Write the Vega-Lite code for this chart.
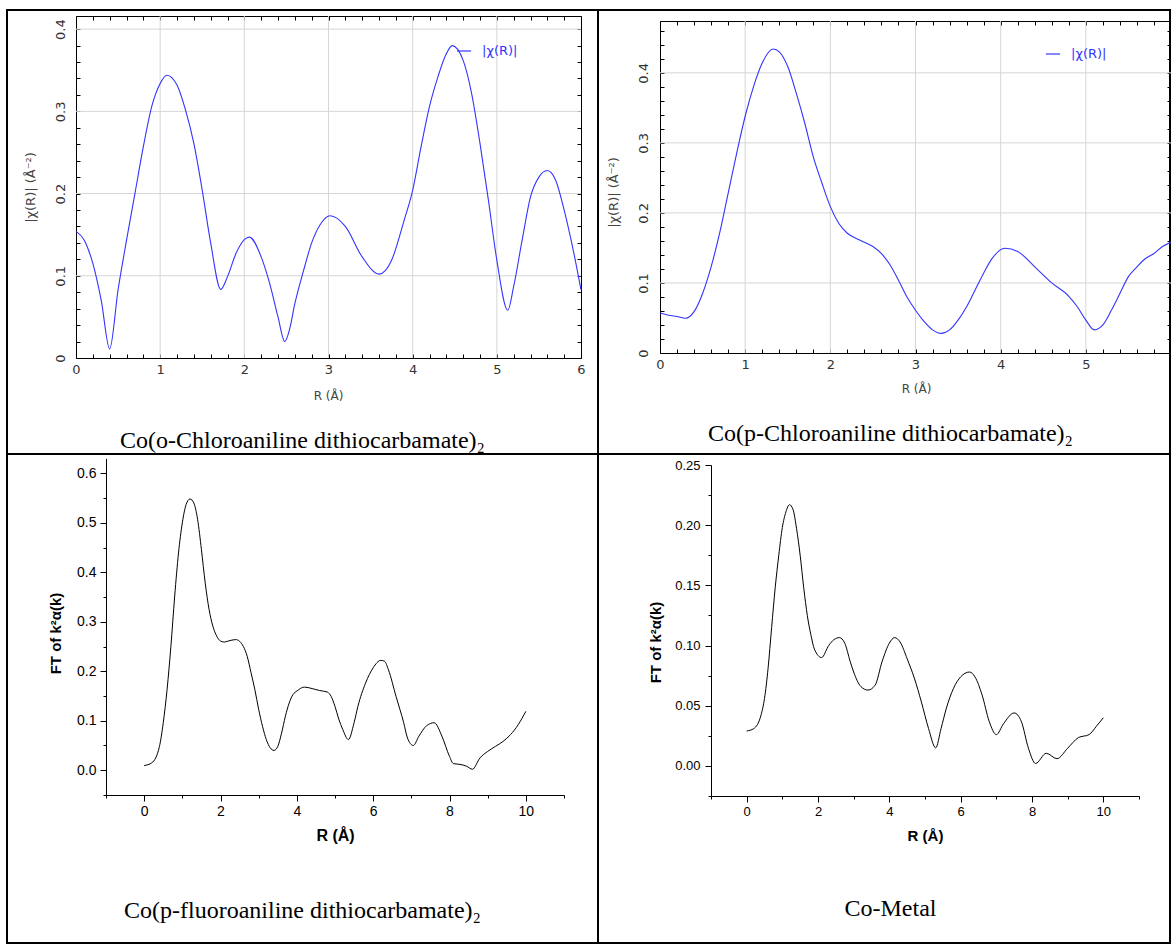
{
  "$schema": "https://vega.github.io/schema/vega-lite/v6.json",
  "padding": {"left": 6, "top": 9, "right": 0, "bottom": 0},
  "background": "white",
  "bounds": "flush",
  "spacing": 0,
  "columns": 2,
  "resolve": {"scale": {"color": "independent"}},
  "config": {
    "view": {"stroke": "#000", "strokeWidth": 2},
    "axis": {"labelOverlap": false, "labelFlush": false, "domainColor": "#000", "tickColor": "#000", "grid": false, "domainWidth": 1, "tickWidth": 1}
  },
  "datasets": {
    "p1": [
      {"R": 0, "v": 0.154}, {"R": 0.1, "v": 0.143}, {"R": 0.2, "v": 0.115}, {"R": 0.3, "v": 0.07}, {"R": 0.4, "v": 0.011},
      {"R": 0.5, "v": 0.083}, {"R": 0.6, "v": 0.143}, {"R": 0.7, "v": 0.2}, {"R": 0.8, "v": 0.257}, {"R": 0.9, "v": 0.306},
      {"R": 1.0, "v": 0.334}, {"R": 1.08, "v": 0.344}, {"R": 1.2, "v": 0.332}, {"R": 1.3, "v": 0.302}, {"R": 1.4, "v": 0.261},
      {"R": 1.5, "v": 0.204}, {"R": 1.6, "v": 0.14}, {"R": 1.72, "v": 0.0835}, {"R": 1.8, "v": 0.099}, {"R": 1.9, "v": 0.127},
      {"R": 2.0, "v": 0.144}, {"R": 2.06, "v": 0.147}, {"R": 2.2, "v": 0.123}, {"R": 2.3, "v": 0.091}, {"R": 2.4, "v": 0.05},
      {"R": 2.48, "v": 0.02}, {"R": 2.54, "v": 0.036}, {"R": 2.6, "v": 0.066}, {"R": 2.7, "v": 0.105}, {"R": 2.8, "v": 0.14},
      {"R": 2.9, "v": 0.162}, {"R": 3.02, "v": 0.173}, {"R": 3.2, "v": 0.16}, {"R": 3.4, "v": 0.123}, {"R": 3.6, "v": 0.102},
      {"R": 3.75, "v": 0.119}, {"R": 3.9, "v": 0.168}, {"R": 4.0, "v": 0.204}, {"R": 4.1, "v": 0.257}, {"R": 4.2, "v": 0.306},
      {"R": 4.3, "v": 0.342}, {"R": 4.4, "v": 0.37}, {"R": 4.47, "v": 0.38}, {"R": 4.6, "v": 0.362}, {"R": 4.7, "v": 0.322},
      {"R": 4.8, "v": 0.261}, {"R": 4.9, "v": 0.192}, {"R": 5.0, "v": 0.119}, {"R": 5.13, "v": 0.058}, {"R": 5.2, "v": 0.087},
      {"R": 5.3, "v": 0.143}, {"R": 5.4, "v": 0.196}, {"R": 5.5, "v": 0.22}, {"R": 5.6, "v": 0.228}, {"R": 5.7, "v": 0.216},
      {"R": 5.8, "v": 0.18}, {"R": 5.9, "v": 0.135}, {"R": 6.0, "v": 0.083}
    ],
    "p2": [
      {"R": 0, "v": 0.057}, {"R": 0.1, "v": 0.054}, {"R": 0.2, "v": 0.052}, {"R": 0.3, "v": 0.0496}, {"R": 0.4, "v": 0.059},
      {"R": 0.5, "v": 0.085}, {"R": 0.6, "v": 0.123}, {"R": 0.7, "v": 0.171}, {"R": 0.8, "v": 0.228}, {"R": 0.9, "v": 0.285},
      {"R": 1.0, "v": 0.338}, {"R": 1.1, "v": 0.381}, {"R": 1.2, "v": 0.414}, {"R": 1.33, "v": 0.434}, {"R": 1.4, "v": 0.43},
      {"R": 1.5, "v": 0.409}, {"R": 1.6, "v": 0.371}, {"R": 1.7, "v": 0.328}, {"R": 1.8, "v": 0.28}, {"R": 1.9, "v": 0.243},
      {"R": 2.0, "v": 0.209}, {"R": 2.1, "v": 0.185}, {"R": 2.2, "v": 0.171}, {"R": 2.35, "v": 0.161}, {"R": 2.5, "v": 0.152},
      {"R": 2.6, "v": 0.142}, {"R": 2.7, "v": 0.126}, {"R": 2.8, "v": 0.104}, {"R": 2.9, "v": 0.08}, {"R": 3.0, "v": 0.061},
      {"R": 3.1, "v": 0.045}, {"R": 3.2, "v": 0.033}, {"R": 3.3, "v": 0.028}, {"R": 3.4, "v": 0.033}, {"R": 3.5, "v": 0.047},
      {"R": 3.6, "v": 0.066}, {"R": 3.7, "v": 0.09}, {"R": 3.8, "v": 0.114}, {"R": 3.9, "v": 0.135}, {"R": 4.05, "v": 0.1496},
      {"R": 4.2, "v": 0.145}, {"R": 4.4, "v": 0.123}, {"R": 4.6, "v": 0.1}, {"R": 4.8, "v": 0.081}, {"R": 4.9, "v": 0.066},
      {"R": 5.0, "v": 0.047}, {"R": 5.1, "v": 0.033}, {"R": 5.2, "v": 0.04}, {"R": 5.3, "v": 0.061}, {"R": 5.4, "v": 0.085},
      {"R": 5.5, "v": 0.109}, {"R": 5.6, "v": 0.123}, {"R": 5.7, "v": 0.135}, {"R": 5.8, "v": 0.142}, {"R": 5.9, "v": 0.152},
      {"R": 6.0, "v": 0.158}
    ],
    "p3": [
      {"R": 0, "v": 0.0095}, {"R": 0.2, "v": 0.015}, {"R": 0.4, "v": 0.048}, {"R": 0.5, "v": 0.096}, {"R": 0.6, "v": 0.163},
      {"R": 0.7, "v": 0.25}, {"R": 0.8, "v": 0.352}, {"R": 0.9, "v": 0.439}, {"R": 1.0, "v": 0.5}, {"R": 1.1, "v": 0.537},
      {"R": 1.2, "v": 0.548}, {"R": 1.3, "v": 0.54}, {"R": 1.4, "v": 0.507}, {"R": 1.5, "v": 0.446}, {"R": 1.6, "v": 0.378},
      {"R": 1.7, "v": 0.325}, {"R": 1.8, "v": 0.291}, {"R": 1.9, "v": 0.271}, {"R": 2.0, "v": 0.261}, {"R": 2.1, "v": 0.259},
      {"R": 2.2, "v": 0.261}, {"R": 2.4, "v": 0.264}, {"R": 2.6, "v": 0.25}, {"R": 2.7, "v": 0.23}, {"R": 2.8, "v": 0.197},
      {"R": 2.9, "v": 0.163}, {"R": 3.0, "v": 0.123}, {"R": 3.1, "v": 0.089}, {"R": 3.2, "v": 0.062}, {"R": 3.4, "v": 0.04},
      {"R": 3.5, "v": 0.048}, {"R": 3.6, "v": 0.075}, {"R": 3.7, "v": 0.109}, {"R": 3.8, "v": 0.136}, {"R": 3.9, "v": 0.153},
      {"R": 4.0, "v": 0.16}, {"R": 4.2, "v": 0.168}, {"R": 4.4, "v": 0.165}, {"R": 4.6, "v": 0.161}, {"R": 4.8, "v": 0.158},
      {"R": 4.9, "v": 0.149}, {"R": 5.0, "v": 0.129}, {"R": 5.1, "v": 0.103}, {"R": 5.2, "v": 0.083}, {"R": 5.35, "v": 0.062},
      {"R": 5.5, "v": 0.096}, {"R": 5.6, "v": 0.129}, {"R": 5.8, "v": 0.176}, {"R": 6.0, "v": 0.207}, {"R": 6.2, "v": 0.222},
      {"R": 6.3, "v": 0.22}, {"R": 6.4, "v": 0.203}, {"R": 6.6, "v": 0.149}, {"R": 6.8, "v": 0.096}, {"R": 6.9, "v": 0.065},
      {"R": 7.05, "v": 0.05}, {"R": 7.2, "v": 0.069}, {"R": 7.4, "v": 0.09}, {"R": 7.6, "v": 0.096}, {"R": 7.8, "v": 0.069},
      {"R": 8.0, "v": 0.028}, {"R": 8.1, "v": 0.0135}, {"R": 8.3, "v": 0.0115}, {"R": 8.45, "v": 0.008}, {"R": 8.6, "v": 0.002},
      {"R": 8.8, "v": 0.025}, {"R": 9.0, "v": 0.038}, {"R": 9.2, "v": 0.048}, {"R": 9.4, "v": 0.058}, {"R": 9.6, "v": 0.072},
      {"R": 9.8, "v": 0.092}, {"R": 10.0, "v": 0.119}
    ],
    "p4": [
      {"R": 0, "v": 0.029}, {"R": 0.2, "v": 0.031}, {"R": 0.4, "v": 0.042}, {"R": 0.5, "v": 0.056}, {"R": 0.6, "v": 0.081},
      {"R": 0.7, "v": 0.115}, {"R": 0.8, "v": 0.148}, {"R": 0.9, "v": 0.175}, {"R": 1.0, "v": 0.198}, {"R": 1.1, "v": 0.211},
      {"R": 1.2, "v": 0.217}, {"R": 1.3, "v": 0.213}, {"R": 1.4, "v": 0.197}, {"R": 1.5, "v": 0.175}, {"R": 1.6, "v": 0.148},
      {"R": 1.7, "v": 0.125}, {"R": 1.8, "v": 0.109}, {"R": 1.9, "v": 0.097}, {"R": 2.1, "v": 0.09}, {"R": 2.3, "v": 0.1},
      {"R": 2.45, "v": 0.105}, {"R": 2.6, "v": 0.1066}, {"R": 2.75, "v": 0.102}, {"R": 2.9, "v": 0.087}, {"R": 3.0, "v": 0.078},
      {"R": 3.2, "v": 0.066}, {"R": 3.4, "v": 0.063}, {"R": 3.6, "v": 0.067}, {"R": 3.8, "v": 0.087}, {"R": 4.0, "v": 0.102},
      {"R": 4.15, "v": 0.1066}, {"R": 4.3, "v": 0.103}, {"R": 4.5, "v": 0.089}, {"R": 4.7, "v": 0.073}, {"R": 4.9, "v": 0.053},
      {"R": 5.1, "v": 0.031}, {"R": 5.3, "v": 0.015}, {"R": 5.45, "v": 0.031}, {"R": 5.6, "v": 0.048}, {"R": 5.8, "v": 0.0645},
      {"R": 6.0, "v": 0.074}, {"R": 6.25, "v": 0.078}, {"R": 6.4, "v": 0.074}, {"R": 6.6, "v": 0.059}, {"R": 6.8, "v": 0.037},
      {"R": 7.0, "v": 0.026}, {"R": 7.2, "v": 0.035}, {"R": 7.5, "v": 0.044}, {"R": 7.7, "v": 0.037}, {"R": 7.9, "v": 0.0147},
      {"R": 8.1, "v": 0.002}, {"R": 8.4, "v": 0.0105}, {"R": 8.7, "v": 0.006}, {"R": 9.0, "v": 0.0147}, {"R": 9.3, "v": 0.0235},
      {"R": 9.6, "v": 0.026}, {"R": 9.8, "v": 0.0327}, {"R": 10.0, "v": 0.04}
    ],
    "gx": [{"g": 1}, {"g": 2}, {"g": 3}, {"g": 4}, {"g": 5}],
    "gy": [{"g": 0.1}, {"g": 0.2}, {"g": 0.3}, {"g": 0.4}]
  },
  "concat": [
    {
      "width": 591, "height": 444,
      "resolve": {"axis": {"x": "independent", "y": "independent"}},
      "layer": [
        {
          "data": {"name": "gx"},
          "mark": {"type": "rule", "color": "#d6d6d6", "strokeWidth": 1},
          "encoding": {
            "x": {"field": "g", "type": "quantitative", "axis": null, "scale": {"domain": [0, 6], "range": [69, 574], "nice": false, "zero": false}},
            "y": {"datum": 0, "type": "quantitative", "axis": null, "scale": {"domain": [0, 0.416], "range": [348, 6], "nice": false, "zero": false}},
            "y2": {"datum": 0.416}
          }
        },
        {
          "data": {"name": "gy"},
          "mark": {"type": "rule", "color": "#d6d6d6", "strokeWidth": 1},
          "encoding": {
            "y": {"field": "g", "type": "quantitative", "axis": null, "scale": {"domain": [0, 0.416], "range": [348, 6], "nice": false, "zero": false}},
            "x": {"datum": 0, "type": "quantitative", "axis": null, "scale": {"domain": [0, 6], "range": [69, 574], "nice": false, "zero": false}},
            "x2": {"datum": 6}
          }
        },
        {
          "data": {"name": "p1"},
          "mark": {"type": "line", "opacity": 0},
          "encoding": {
            "x": {"field": "R", "type": "quantitative", "scale": {"domain": [0, 6], "range": [69, 574], "nice": false, "zero": false},
              "axis": {"orient": "top", "offset": -6, "values": [0,0.2,0.4,0.6,0.8,1,1.2,1.4,1.6,1.8,2,2.2,2.4,2.6,2.8,3,3.2,3.4,3.6,3.8,4,4.2,4.4,4.6,4.8,5,5.2,5.4,5.6,5.8,6],
                "labels": false, "tickSize": -4, "domain": true,
                "title": "Co(o-Chloroaniline dithiocarbamate)₂", "titleFont": "Liberation Serif", "titleFontSize": 24, "titleFontWeight": "normal", "titleColor": "#000",
                "titleX": 295, "titleY": 424, "titleAlign": "center", "titleBaseline": "middle", "titleAngle": 0}},
            "y": {"field": "v", "type": "quantitative", "scale": {"domain": [0, 0.416], "range": [348, 6], "nice": false, "zero": false},
              "axis": {"orient": "right", "offset": -17, "values": [0,0.02,0.04,0.06,0.08,0.1,0.12,0.14,0.16,0.18,0.2,0.22,0.24,0.26,0.28,0.3,0.32,0.34,0.36,0.38,0.4],
                "labels": false, "tickSize": -4, "domain": true, "title": null}}
          }
        },
        {
          "data": {"name": "p1"},
          "mark": {"type": "line", "interpolate": "monotone", "strokeWidth": 1.1},
          "encoding": {
            "x": {"field": "R", "type": "quantitative", "scale": {"domain": [0, 6], "range": [69, 574], "nice": false, "zero": false},
              "axis": {"orient": "bottom", "offset": -96, "values": [0,0.2,0.4,0.6,0.8,1,1.2,1.4,1.6,1.8,2,2.2,2.4,2.6,2.8,3,3.2,3.4,3.6,3.8,4,4.2,4.4,4.6,4.8,5,5.2,5.4,5.6,5.8,6],
                "format": "~g", "labelExpr": "datum.value % 1 == 0 ? datum.label : ''",
                "tickSize": -4, "domain": true, "labelFont": "DejaVu Sans", "labelFontSize": 13, "labelColor": "#333", "labelPadding": 9,
                "title": "R (Å)", "titleFont": "DejaVu Sans", "titleFontSize": 12, "titleFontWeight": "normal", "titleColor": "#444",
                "titleX": 321, "titleY": 37, "titleAlign": "center", "titleBaseline": "middle", "titleAngle": 0}},
            "y": {"field": "v", "type": "quantitative", "scale": {"domain": [0, 0.416], "range": [348, 6], "nice": false, "zero": false},
              "axis": {"orient": "left", "offset": -69, "values": [0,0.02,0.04,0.06,0.08,0.1,0.12,0.14,0.16,0.18,0.2,0.22,0.24,0.26,0.28,0.3,0.32,0.34,0.36,0.38,0.4],
                "format": "~g", "labelExpr": "round(datum.value * 100) % 10 == 0 ? datum.label : ''",
                "tickSize": -4, "domain": true, "labelFont": "DejaVu Sans", "labelFontSize": 13, "labelColor": "#333", "labelPadding": 13,
                "labelAngle": -90, "labelAlign": "center", "labelBaseline": "bottom",
                "title": "|χ(R)| (Å⁻²)", "titleFont": "DejaVu Sans", "titleFontSize": 13, "titleFontWeight": "normal", "titleColor": "#444",
                "titleX": -46, "titleY": 177, "titleAlign": "center", "titleBaseline": "middle", "titleAngle": 270}},
            "color": {"datum": "|χ(R)|", "type": "nominal", "scale": {"range": ["#3434ff"]},
              "legend": {"orient": "none", "legendX": 449, "legendY": 33, "title": null, "symbolType": "stroke", "symbolSize": 200, "symbolStrokeWidth": 1.2,
                "labelFont": "DejaVu Sans", "labelFontSize": 13, "labelColor": "#3434ff", "labelOffset": 10, "padding": 0}}
          }
        }
      ]
    },
    {
      "width": 572, "height": 444,
      "resolve": {"axis": {"x": "independent", "y": "independent"}},
      "layer": [
        {
          "data": {"name": "gx"},
          "mark": {"type": "rule", "color": "#d6d6d6", "strokeWidth": 1},
          "encoding": {
            "x": {"field": "g", "type": "quantitative", "axis": null, "scale": {"domain": [0, 6], "range": [62, 573], "nice": false, "zero": false}},
            "y": {"datum": 0, "type": "quantitative", "axis": null, "scale": {"domain": [0, 0.474], "range": [343, 11], "nice": false, "zero": false}},
            "y2": {"datum": 0.474}
          }
        },
        {
          "data": {"name": "gy"},
          "mark": {"type": "rule", "color": "#d6d6d6", "strokeWidth": 1},
          "encoding": {
            "y": {"field": "g", "type": "quantitative", "axis": null, "scale": {"domain": [0, 0.474], "range": [343, 11], "nice": false, "zero": false}},
            "x": {"datum": 0, "type": "quantitative", "axis": null, "scale": {"domain": [0, 6], "range": [62, 573], "nice": false, "zero": false}},
            "x2": {"datum": 6}
          }
        },
        {
          "data": {"name": "p2"},
          "mark": {"type": "line", "opacity": 0},
          "encoding": {
            "x": {"field": "R", "type": "quantitative", "scale": {"domain": [0, 6], "range": [62, 573], "nice": false, "zero": false},
              "axis": {"orient": "top", "offset": -11, "values": [0,0.2,0.4,0.6,0.8,1,1.2,1.4,1.6,1.8,2,2.2,2.4,2.6,2.8,3,3.2,3.4,3.6,3.8,4,4.2,4.4,4.6,4.8,5,5.2,5.4,5.6,5.8,6],
                "labels": false, "tickSize": -4, "domain": true,
                "title": "Co(p-Chloroaniline dithiocarbamate)₂", "titleFont": "Liberation Serif", "titleFontSize": 24, "titleFontWeight": "normal", "titleColor": "#000",
                "titleX": 292, "titleY": 412, "titleAlign": "center", "titleBaseline": "middle", "titleAngle": 0}},
            "y": {"field": "v", "type": "quantitative", "scale": {"domain": [0, 0.474], "range": [343, 11], "nice": false, "zero": false},
              "axis": {"orient": "right", "offset": 1, "values": [0,0.02,0.04,0.06,0.08,0.1,0.12,0.14,0.16,0.18,0.2,0.22,0.24,0.26,0.28,0.3,0.32,0.34,0.36,0.38,0.4,0.42,0.44,0.46],
                "labels": false, "tickSize": -4, "domain": true, "title": null}}
          }
        },
        {
          "data": {"name": "p2"},
          "mark": {"type": "line", "interpolate": "monotone", "strokeWidth": 1.1},
          "encoding": {
            "x": {"field": "R", "type": "quantitative", "scale": {"domain": [0, 6], "range": [62, 573], "nice": false, "zero": false},
              "axis": {"orient": "bottom", "offset": -101, "values": [0,0.2,0.4,0.6,0.8,1,1.2,1.4,1.6,1.8,2,2.2,2.4,2.6,2.8,3,3.2,3.4,3.6,3.8,4,4.2,4.4,4.6,4.8,5,5.2,5.4,5.6,5.8,6],
                "format": "~g", "labelExpr": "datum.value % 1 == 0 && datum.value < 6 ? datum.label : ''",
                "tickSize": -4, "domain": true, "labelFont": "DejaVu Sans", "labelFontSize": 13, "labelColor": "#333", "labelPadding": 9,
                "title": "R (Å)", "titleFont": "DejaVu Sans", "titleFontSize": 12, "titleFontWeight": "normal", "titleColor": "#444",
                "titleX": 318, "titleY": 35, "titleAlign": "center", "titleBaseline": "middle", "titleAngle": 0}},
            "y": {"field": "v", "type": "quantitative", "scale": {"domain": [0, 0.474], "range": [343, 11], "nice": false, "zero": false},
              "axis": {"orient": "left", "offset": -62, "values": [0,0.02,0.04,0.06,0.08,0.1,0.12,0.14,0.16,0.18,0.2,0.22,0.24,0.26,0.28,0.3,0.32,0.34,0.36,0.38,0.4,0.42,0.44,0.46],
                "format": "~g", "labelExpr": "round(datum.value * 100) % 10 == 0 ? datum.label : ''",
                "tickSize": -4, "domain": true, "labelFont": "DejaVu Sans", "labelFontSize": 13, "labelColor": "#333", "labelPadding": 14,
                "labelAngle": -90, "labelAlign": "center", "labelBaseline": "bottom",
                "title": "|χ(R)| (Å⁻²)", "titleFont": "DejaVu Sans", "titleFontSize": 13, "titleFontWeight": "normal", "titleColor": "#444",
                "titleX": -47, "titleY": 182, "titleAlign": "center", "titleBaseline": "middle", "titleAngle": 270}},
            "color": {"datum": "|χ(R)|", "type": "nominal", "scale": {"range": ["#3434ff"]},
              "legend": {"orient": "none", "legendX": 447, "legendY": 36, "title": null, "symbolType": "stroke", "symbolSize": 200, "symbolStrokeWidth": 1.2,
                "labelFont": "DejaVu Sans", "labelFontSize": 13, "labelColor": "#3434ff", "labelOffset": 10, "padding": 0}}
          }
        }
      ]
    },
    {
      "width": 591, "height": 489,
      "resolve": {"axis": {"x": "independent", "y": "independent"}},
      "layer": [
        {
          "data": {"name": "p3"},
          "mark": {"type": "line", "opacity": 0},
          "encoding": {
            "x": {"field": "R", "type": "quantitative", "scale": {"domain": [-1, 11], "range": [99, 557], "nice": false, "zero": false},
              "axis": {"orient": "bottom", "offset": -148, "values": [-1, 1, 3, 5, 7, 9, 11], "labels": false, "tickSize": 3, "domain": false,
                "title": "Co(p-fluoroaniline dithiocarbamate)₂", "titleFont": "Liberation Serif", "titleFontSize": 24, "titleFontWeight": "normal", "titleColor": "#000",
                "titleX": 295, "titleY": 115, "titleAlign": "center", "titleBaseline": "middle", "titleAngle": 0}},
            "y": {"field": "v", "type": "quantitative", "scale": {"domain": [-0.05, 0.63], "range": [341, 4.4], "nice": false, "zero": false},
              "axis": {"orient": "left", "offset": -99, "values": [-0.05, 0.05, 0.15, 0.25, 0.35, 0.45, 0.55], "labels": false, "tickSize": 3, "domain": false, "title": null}}
          }
        },
        {
          "data": {"name": "p3"},
          "mark": {"type": "line", "interpolate": "monotone", "strokeWidth": 1, "color": "#000"},
          "encoding": {
            "x": {"field": "R", "type": "quantitative", "scale": {"domain": [-1, 11], "range": [99, 557], "nice": false, "zero": false},
              "axis": {"orient": "bottom", "offset": -148, "values": [0, 2, 4, 6, 8, 10], "format": "d", "tickSize": 6, "domain": true,
                "labelFont": "Liberation Sans", "labelFontSize": 14, "labelColor": "#000", "labelPadding": 3,
                "title": "R (Å)", "titleFont": "Liberation Sans", "titleFontSize": 16, "titleFontWeight": "bold", "titleColor": "#000",
                "titleX": 328, "titleY": 40, "titleAlign": "center", "titleBaseline": "middle", "titleAngle": 0}},
            "y": {"field": "v", "type": "quantitative", "scale": {"domain": [-0.05, 0.63], "range": [341, 4.4], "nice": false, "zero": false},
              "axis": {"orient": "left", "offset": -99, "values": [0, 0.1, 0.2, 0.3, 0.4, 0.5, 0.6], "format": ".1f", "tickSize": 6, "domain": true,
                "labelFont": "Liberation Sans", "labelFontSize": 14, "labelColor": "#000", "labelPadding": 4,
                "title": "FT of k²α(k)", "titleFont": "Liberation Sans", "titleFontSize": 15, "titleFontWeight": "bold", "titleColor": "#000",
                "titleX": -51, "titleY": 179, "titleAlign": "center", "titleBaseline": "middle", "titleAngle": 270}}
          }
        }
      ]
    },
    {
      "width": 572, "height": 489,
      "resolve": {"axis": {"x": "independent", "y": "independent"}},
      "layer": [
        {
          "data": {"name": "p4"},
          "mark": {"type": "line", "opacity": 0},
          "encoding": {
            "x": {"field": "R", "type": "quantitative", "scale": {"domain": [-1, 11], "range": [113, 541], "nice": false, "zero": false},
              "axis": {"orient": "bottom", "offset": -147, "values": [-1, 1, 3, 5, 7, 9, 11], "labels": false, "tickSize": 3, "domain": false,
                "title": "Co-Metal", "titleFont": "Liberation Serif", "titleFontSize": 24, "titleFontWeight": "normal", "titleColor": "#000",
                "titleX": 292, "titleY": 112, "titleAlign": "center", "titleBaseline": "middle", "titleAngle": 0}},
            "y": {"field": "v", "type": "quantitative", "scale": {"domain": [-0.025, 0.25], "range": [342, 11], "nice": false, "zero": false},
              "axis": {"orient": "left", "offset": -113, "values": [-0.025, 0.025, 0.075, 0.125, 0.175, 0.225], "labels": false, "tickSize": 3, "domain": false, "title": null}}
          }
        },
        {
          "data": {"name": "p4"},
          "mark": {"type": "line", "interpolate": "monotone", "strokeWidth": 1, "color": "#000"},
          "encoding": {
            "x": {"field": "R", "type": "quantitative", "scale": {"domain": [-1, 11], "range": [113, 541], "nice": false, "zero": false},
              "axis": {"orient": "bottom", "offset": -147, "values": [0, 2, 4, 6, 8, 10], "format": "d", "tickSize": 6, "domain": true,
                "labelFont": "Liberation Sans", "labelFontSize": 13, "labelColor": "#000", "labelPadding": 3,
                "title": "R (Å)", "titleFont": "Liberation Sans", "titleFontSize": 15, "titleFontWeight": "bold", "titleColor": "#000",
                "titleX": 327, "titleY": 39, "titleAlign": "center", "titleBaseline": "middle", "titleAngle": 0}},
            "y": {"field": "v", "type": "quantitative", "scale": {"domain": [-0.025, 0.25], "range": [342, 11], "nice": false, "zero": false},
              "axis": {"orient": "left", "offset": -113, "values": [0, 0.05, 0.1, 0.15, 0.2, 0.25], "format": ".2f", "tickSize": 6, "domain": true,
                "labelFont": "Liberation Sans", "labelFontSize": 13, "labelColor": "#000", "labelPadding": 5,
                "title": "FT of k²α(k)", "titleFont": "Liberation Sans", "titleFontSize": 15, "titleFontWeight": "bold", "titleColor": "#000",
                "titleX": -56, "titleY": 188, "titleAlign": "center", "titleBaseline": "middle", "titleAngle": 270}}
          }
        }
      ]
    }
  ]
}
